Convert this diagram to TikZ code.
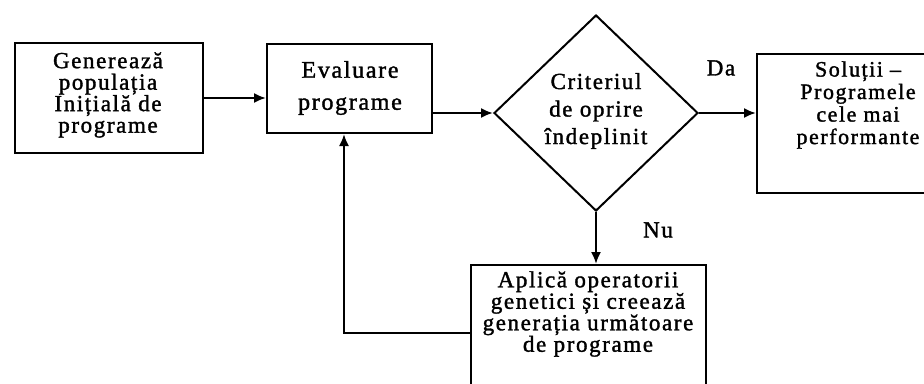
\documentclass[tikz,border=0pt]{standalone}
\usepackage{fontspec}
\setmainfont{Liberation Serif}[LetterSpace=7,FakeBold=1.5]
\usetikzlibrary{shapes.geometric,arrows.meta}
\tikzset{
  box/.style={draw,line width=2pt,rectangle,inner sep=0pt},
  decision/.style={draw,line width=2pt,diamond,inner sep=0pt,aspect=1.04},
  txt/.style={align=center,inner sep=0pt},
  flow/.style={line width=2pt,-{Latex[length=12pt,width=10pt]}},
  lbl/.style={font=\fontsize{23}{24}\selectfont,inner sep=0pt}
}
\begin{document}
\begin{tikzpicture}[x=1pt,y=-1pt]
\useasboundingbox (0,0) rectangle (924,383);
\clip (0,0) rectangle (924,383);
% start box
\node[box,minimum width=188pt,minimum height=110pt] (gen) at (109,98) {};
\node[txt,font=\fontsize{23}{21.5}\selectfont] (gentext) at (108,95) {Generează\\populația\\Inițială de\\programe};
% evaluation
\node[box,minimum width=165pt,minimum height=89pt] (eval) at (349.5,88.5) {};
\node[txt,font=\fontsize{24}{32}\selectfont] (evaltext) at (350,88) {Evaluare\\programe};
% stop test
\node[decision,minimum width=204pt,minimum height=196pt] (test) at (596,113) {};
\node[txt,font=\fontsize{23}{27.5}\selectfont] (testtext) at (596,111) {Criteriul\\de oprire\\îndeplinit};
% result box, running off the right edge
\node[box,minimum width=202pt,minimum height=139pt] (sol) at (858,123.5) {};
\node[txt,font=\fontsize{22}{22.5}\selectfont] (soltext) at (858,105) {Soluții –\\Programele\\cele mai\\performante};
% genetic operators box, running off the bottom edge
\node[box,minimum width=235pt,minimum height=136pt] (apply) at (588.5,333) {};
\node[txt,font=\fontsize{23}{21.5}\selectfont] (applytext) at (588,314) {Aplică operatorii\\genetici și creează\\generația următoare\\de programe};
% labels
\node[lbl] (da) at (721,68) {Da};
\node[lbl] (nu) at (658,230) {Nu};
% connectors
\draw[flow] (gen.east) -- (gen.east -| eval.west);
\draw[flow] (eval.east |- test.west) -- (test.west);
\draw[flow] (test.east) -- (test.east -| sol.west);
\draw[flow] (test.south) -- (test.south |- apply.north);
\coordinate (back) at ([xshift=-5.5pt]eval.south);
\draw[flow] (apply.west) -| (back);
\end{tikzpicture}
\end{document}
